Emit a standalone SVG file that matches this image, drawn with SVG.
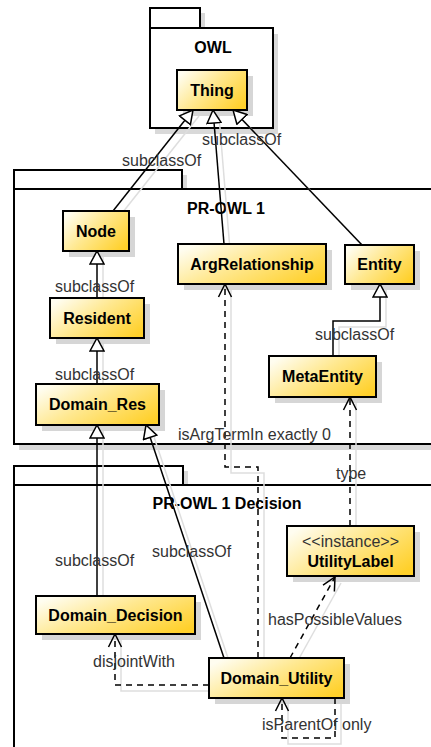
<svg xmlns="http://www.w3.org/2000/svg" width="431" height="747" viewBox="0 0 431 747">
<style>
.pkg{fill:#fff;stroke:#000;stroke-width:2}
.psh{fill:#d9d9d9;stroke:none}
.box{fill:url(#gold);stroke:#000;stroke-width:2}
.bsh{fill:#d6d6d6}
.nt{font-family:"Liberation Sans",Arial,sans-serif;font-weight:bold;font-size:16px;fill:#000;text-anchor:middle}
.st{font-family:"Liberation Sans",Arial,sans-serif;font-size:16px;fill:#333;text-anchor:middle}
.lb{font-family:"Liberation Sans",Arial,sans-serif;font-size:16px;fill:#333}
.c{fill:none;stroke:#000;stroke-width:1.5}
.d{fill:none;stroke:#000;stroke-width:1.5;stroke-dasharray:6,5}
.cs{fill:none;stroke:#dedede;stroke-width:1.5}
.inh{marker-end:url(#tri)}
.dep{marker-end:url(#open)}
</style>
<defs>
<linearGradient id="gold" x1="0" y1="0.2" x2="1" y2="0.8">
<stop offset="0" stop-color="#fffdf0"/>
<stop offset="0.45" stop-color="#ffe88f"/>
<stop offset="1" stop-color="#ffd02a"/>
</linearGradient>
<marker id="tri" viewBox="0 0 15 16" refX="14" refY="8" markerWidth="15" markerHeight="16" orient="auto" markerUnits="userSpaceOnUse">
<path d="M1,1 L14,8 L1,15 Z" fill="#fff" stroke="#000" stroke-width="1.5"/>
</marker>
<marker id="open" viewBox="0 0 15 16" refX="14" refY="8" markerWidth="15" markerHeight="16" orient="auto" markerUnits="userSpaceOnUse">
<path d="M1,1.5 L14,8 L1,14.5" fill="none" stroke="#000" stroke-width="1.5"/>
</marker>
</defs>
<rect width="431" height="747" fill="#fff"/>

<!-- packages -->
<g id="pkg-owl">
<rect class="psh" x="155" y="13" width="50" height="21"/>
<rect class="psh" x="155" y="34" width="123" height="100"/>
<rect class="pkg" x="150" y="8" width="50" height="20"/>
<rect class="pkg" x="150" y="28" width="123" height="100"/>
<text class="nt" x="213" y="53">OWL</text>
</g>
<g id="pkg-prowl1">
<rect class="psh" x="19" y="175" width="168" height="20"/>
<rect class="psh" x="19" y="195" width="430" height="255"/>
<rect class="pkg" x="14" y="170" width="168" height="19"/>
<rect class="pkg" x="14" y="189" width="430" height="255"/>
<text class="nt" x="226" y="214">PR-OWL 1</text>
</g>
<g id="pkg-decision">
<rect class="psh" x="19" y="471" width="169" height="20"/>
<rect class="psh" x="19" y="491" width="430" height="270"/>
<rect class="pkg" x="14" y="466" width="169" height="19"/>
<rect class="pkg" x="14" y="485" width="430" height="270"/>
<text class="nt" x="227" y="509">PR-OWL 1 Decision</text>
</g>

<!-- connector shadows -->
<g id="connector-shadows">
<line class="cs" x1="119" y1="217" x2="199" y2="116"/>
<line class="cs" x1="230" y1="250" x2="219" y2="116"/>
<line class="cs" x1="368" y1="251" x2="239" y2="116"/>
<line class="cs" x1="103" y1="304" x2="103" y2="257"/>
<line class="cs" x1="103" y1="390" x2="103" y2="344"/>
<polyline class="cs" points="339,362 339,327 386,327 386,290"/>
<line class="cs" x1="103" y1="602" x2="103" y2="431"/>
<line class="cs" x1="230" y1="664" x2="152" y2="431"/>
<polyline class="cs" points="231,290 231,473 264,473 264,664"/>
<line class="cs" x1="356" y1="403" x2="356" y2="532"/>
<line class="cs" x1="296" y1="664" x2="341" y2="583"/>
<polyline class="cs" points="215,691 121,691 121,640"/>
<polyline class="cs" points="341,704 341,744 288,744 288,704"/>
</g>

<!-- nodes -->
<g id="thing"><rect class="bsh" x="183" y="76" width="70" height="40"/><rect class="box" x="177" y="70" width="70" height="40"/><text class="nt" x="212" y="96">Thing</text></g>
<g id="node"><rect class="bsh" x="69" y="217" width="66" height="40"/><rect class="box" x="63" y="211" width="66" height="40"/><text class="nt" x="96" y="237">Node</text></g>
<g id="argrelationship"><rect class="bsh" x="184" y="250" width="148" height="40"/><rect class="box" x="178" y="244" width="148" height="40"/><text class="nt" x="252" y="270">ArgRelationship</text></g>
<g id="entity"><rect class="bsh" x="351" y="251" width="69" height="39"/><rect class="box" x="345" y="245" width="69" height="39"/><text class="nt" x="379.5" y="270">Entity</text></g>
<g id="resident"><rect class="bsh" x="56" y="304" width="94" height="40"/><rect class="box" x="50" y="298" width="94" height="40"/><text class="nt" x="97" y="324">Resident</text></g>
<g id="metaentity"><rect class="bsh" x="275" y="362" width="107" height="41"/><rect class="box" x="269" y="356" width="107" height="41"/><text class="nt" x="322.5" y="382">MetaEntity</text></g>
<g id="domain-res"><rect class="bsh" x="42" y="390" width="123" height="41"/><rect class="box" x="36" y="384" width="123" height="41"/><text class="nt" x="97.5" y="410">Domain_Res</text></g>
<g id="utilitylabel"><rect class="bsh" x="293" y="532" width="127" height="50"/><rect class="box" x="287" y="526" width="127" height="50"/><text class="st" x="350.5" y="547">&lt;&lt;instance&gt;&gt;</text><text class="nt" x="350.5" y="567">UtilityLabel</text></g>
<g id="domain-decision"><rect class="bsh" x="42" y="602" width="159" height="38"/><rect class="box" x="36" y="596" width="159" height="38"/><text class="nt" x="115.5" y="621">Domain_Decision</text></g>
<g id="domain-utility"><rect class="bsh" x="215" y="664" width="135" height="40"/><rect class="box" x="209" y="658" width="135" height="40"/><text class="nt" x="276.5" y="684">Domain_Utility</text></g>

<!-- connectors -->
<g id="connectors">
<line class="c inh" x1="113" y1="211" x2="193" y2="110"/>
<line class="c inh" x1="224" y1="244" x2="213" y2="110"/>
<line class="c inh" x1="362" y1="245" x2="233" y2="110"/>
<line class="c inh" x1="97" y1="298" x2="97" y2="251"/>
<line class="c inh" x1="97" y1="384" x2="97" y2="338"/>
<polyline class="c inh" points="333,356 333,321 380,321 380,284"/>
<line class="c inh" x1="97" y1="596" x2="97" y2="425"/>
<line class="c inh" x1="224" y1="658" x2="146" y2="425"/>
<polyline class="d dep" points="258,658 258,467 225,467 225,284"/>
<line class="d dep" x1="350" y1="526" x2="350" y2="397"/>
<line class="d dep" x1="290" y1="658" x2="335" y2="577"/>
<polyline class="d dep" points="209,685 115,685 115,634"/>
<polyline class="d dep" points="335,698 335,738 282,738 282,698"/>
<text class="lb" x="122" y="166">subclassOf</text>
<text class="lb" x="202" y="145">subclassOf</text>
<text class="lb" x="55" y="292">subclassOf</text>
<text class="lb" x="55" y="380">subclassOf</text>
<text class="lb" x="315" y="340">subclassOf</text>
<text class="lb" x="178" y="440">isArgTermIn exactly 0</text>
<text class="lb" x="336" y="479">type</text>
<text class="lb" x="55" y="566">subclassOf</text>
<text class="lb" x="152" y="557">subclassOf</text>
<text class="lb" x="268" y="625">hasPossibleValues</text>
<text class="lb" x="93" y="667">disjointWith</text>
<text class="lb" x="262" y="730">isParentOf only</text>
</g>
</svg>
